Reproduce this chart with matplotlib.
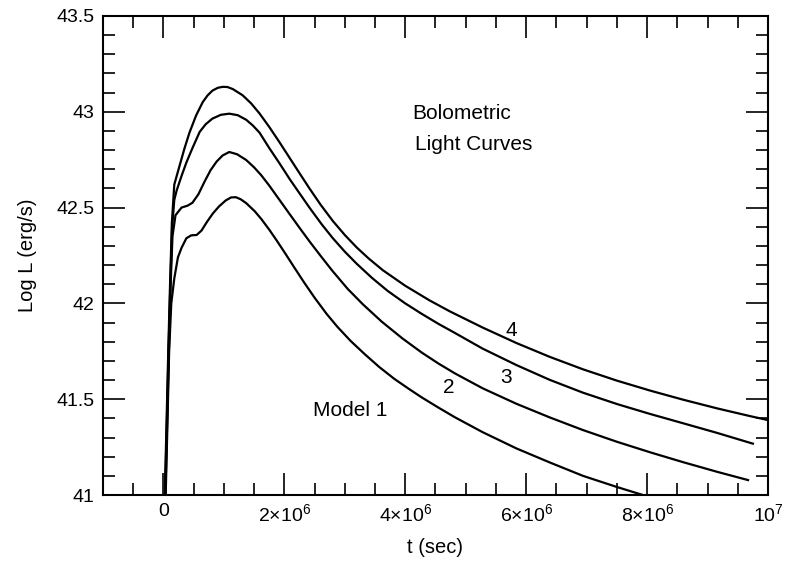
import matplotlib
matplotlib.use("Agg")
import matplotlib.pyplot as plt
from matplotlib.ticker import FixedLocator, MultipleLocator
import numpy as np

plt.rcParams["font.family"] = ["Liberation Sans", "DejaVu Sans"]
plt.rcParams["mathtext.fontset"] = "custom"
plt.rcParams["mathtext.rm"] = "Liberation Sans"
plt.rcParams["mathtext.default"] = "regular"

# time in units of 1e6 s, log L in erg/s
t_model1 = [0.03, 0.065, 0.095, 0.13, 0.18, 0.24, 0.30, 0.38, 0.46, 0.55, 0.63, 0.72,
            0.82, 0.92, 1.03, 1.12, 1.20, 1.28, 1.37, 1.51, 1.62, 1.75, 1.87, 2.00,
            2.17, 2.33, 2.50, 2.70, 2.88, 3.10, 3.33, 3.57, 3.82, 4.05, 4.27, 4.55,
            4.82, 5.28, 5.84, 6.39, 6.94, 7.50, 7.88, 8.30]
L_model1 = [40.9, 41.35, 41.75, 42.0, 42.13, 42.24, 42.29, 42.34, 42.355, 42.357, 42.38, 42.425,
            42.47, 42.506, 42.537, 42.553, 42.554, 42.543, 42.523, 42.481, 42.44, 42.385, 42.33, 42.268,
            42.185, 42.108, 42.03, 41.945, 41.877, 41.803, 41.735, 41.668, 41.606, 41.556, 41.51, 41.456,
            41.406, 41.328, 41.243, 41.17, 41.10, 41.042, 41.005, 40.965]

t_model2 = [0.025, 0.06, 0.09, 0.12, 0.15, 0.20, 0.30, 0.40, 0.48, 0.58, 0.68, 0.78,
            0.88, 0.98, 1.09, 1.22, 1.37, 1.50, 1.62, 1.75, 1.92, 2.09, 2.25, 2.42,
            2.62, 2.80, 3.05, 3.30, 3.61, 3.95, 4.27, 4.55, 4.82, 5.28, 5.84, 6.39,
            6.94, 7.50, 8.05, 8.59, 9.16, 9.67]
L_model2 = [40.9, 41.35, 41.75, 42.1, 42.35, 42.46, 42.50, 42.51, 42.525, 42.57, 42.635, 42.695,
            42.74, 42.772, 42.79, 42.778, 42.748, 42.71, 42.668, 42.615, 42.54, 42.465, 42.395, 42.322,
            42.24, 42.168, 42.075, 41.995, 41.905, 41.818, 41.744, 41.686, 41.635, 41.557, 41.476, 41.405,
            41.339, 41.278, 41.223, 41.172, 41.121, 41.078]

t_model3 = [0.02, 0.055, 0.085, 0.115, 0.145, 0.18, 0.22, 0.30, 0.38, 0.48, 0.60, 0.70,
            0.81, 0.95, 1.09, 1.23, 1.37, 1.48, 1.59, 1.75, 1.92, 2.09, 2.25, 2.42,
            2.62, 2.80, 3.00, 3.20, 3.45, 3.71, 4.00, 4.27, 4.55, 4.82, 5.28, 5.84,
            6.39, 6.94, 7.50, 8.05, 8.59, 9.16, 9.75]
L_model3 = [40.9, 41.35, 41.75, 42.1, 42.4, 42.54, 42.59, 42.665, 42.735, 42.81, 42.895, 42.935,
            42.964, 42.984, 42.99, 42.982, 42.958, 42.928, 42.891, 42.811, 42.731, 42.648, 42.575, 42.498,
            42.412, 42.341, 42.27, 42.206, 42.133, 42.065, 42.0, 41.946, 41.893, 41.846, 41.764, 41.678,
            41.601, 41.534, 41.475, 41.423, 41.375, 41.324, 41.268]

t_model4 = [0.015, 0.05, 0.08, 0.11, 0.14, 0.18, 0.26, 0.35, 0.43, 0.54, 0.65, 0.73,
            0.81, 0.90, 0.98, 1.06, 1.15, 1.31, 1.45, 1.59, 1.75, 1.92, 2.09, 2.25,
            2.42, 2.60, 2.80, 3.00, 3.20, 3.40, 3.63, 4.00, 4.40, 4.74, 5.28, 5.84,
            6.39, 6.94, 7.50, 8.05, 8.59, 9.16, 9.70, 10.1]
L_model4 = [40.9, 41.35, 41.75, 42.1, 42.42, 42.62, 42.71, 42.81, 42.89, 42.98, 43.05, 43.085,
            43.11, 43.125, 43.13, 43.129, 43.118, 43.086, 43.044, 42.991, 42.921, 42.841, 42.758, 42.68,
            42.598, 42.515, 42.431, 42.357, 42.291, 42.233, 42.173, 42.092, 42.016, 41.958, 41.874, 41.793,
            41.721, 41.656, 41.597, 41.545, 41.498, 41.452, 41.412, 41.384]

x_ticks = [0, 2e6, 4e6, 6e6, 8e6, 1e7]
x_tick_labels = ["0", "2×10$^{6}$", "4×10$^{6}$", "6×10$^{6}$", "8×10$^{6}$", "10$^{7}$"]
y_ticks = [41, 41.5, 42, 42.5, 43, 43.5]
y_tick_labels = ["41", "41.5", "42", "42.5", "43", "43.5"]

fig = plt.figure(figsize=(7.98, 5.61), dpi=100)
ax = fig.add_axes([0.129, 0.1176, 0.8334, 0.854])

for t, L in [(t_model1, L_model1), (t_model2, L_model2),
             (t_model3, L_model3), (t_model4, L_model4)]:
    ax.plot(np.array(t) * 1e6, L, color="black", linewidth=1.6,
            solid_joinstyle="round")

ax.set_xlim(-1e6, 1e7)
ax.set_ylim(41, 43.5)

ax.xaxis.set_major_locator(FixedLocator(x_ticks))
ax.set_xticklabels(x_tick_labels)
ax.xaxis.set_minor_locator(MultipleLocator(5e5))
ax.yaxis.set_major_locator(FixedLocator(y_ticks))
ax.set_yticklabels(y_tick_labels)
ax.yaxis.set_minor_locator(MultipleLocator(0.1))

ax.tick_params(which="both", direction="in", top=True, right=True,
               width=1.2, labelsize=14, pad=6)
ax.tick_params(which="major", length=16)
ax.tick_params(which="minor", length=8.5)
for s in ax.spines.values():
    s.set_linewidth(1.5)

ax.set_xlabel("t (sec)", fontsize=14.5, labelpad=9)
ax.set_ylabel("Log L (erg/s)", fontsize=14.5, labelpad=14)

ax.text(4.12e6, 42.99, "Bolometric", fontsize=15, ha="left", va="center")
ax.text(4.16e6, 42.83, "Light Curves", fontsize=15, ha="left", va="center")
ax.text(2.47e6, 41.44, "Model 1", fontsize=15, ha="left", va="center")
ax.text(4.72e6, 41.56, "2", fontsize=15, ha="center", va="center")
ax.text(5.66e6, 41.615, "3", fontsize=15, ha="center", va="center")
ax.text(5.76e6, 41.856, "4", fontsize=15, ha="center", va="center")

fig.savefig("out.png", dpi=100)
